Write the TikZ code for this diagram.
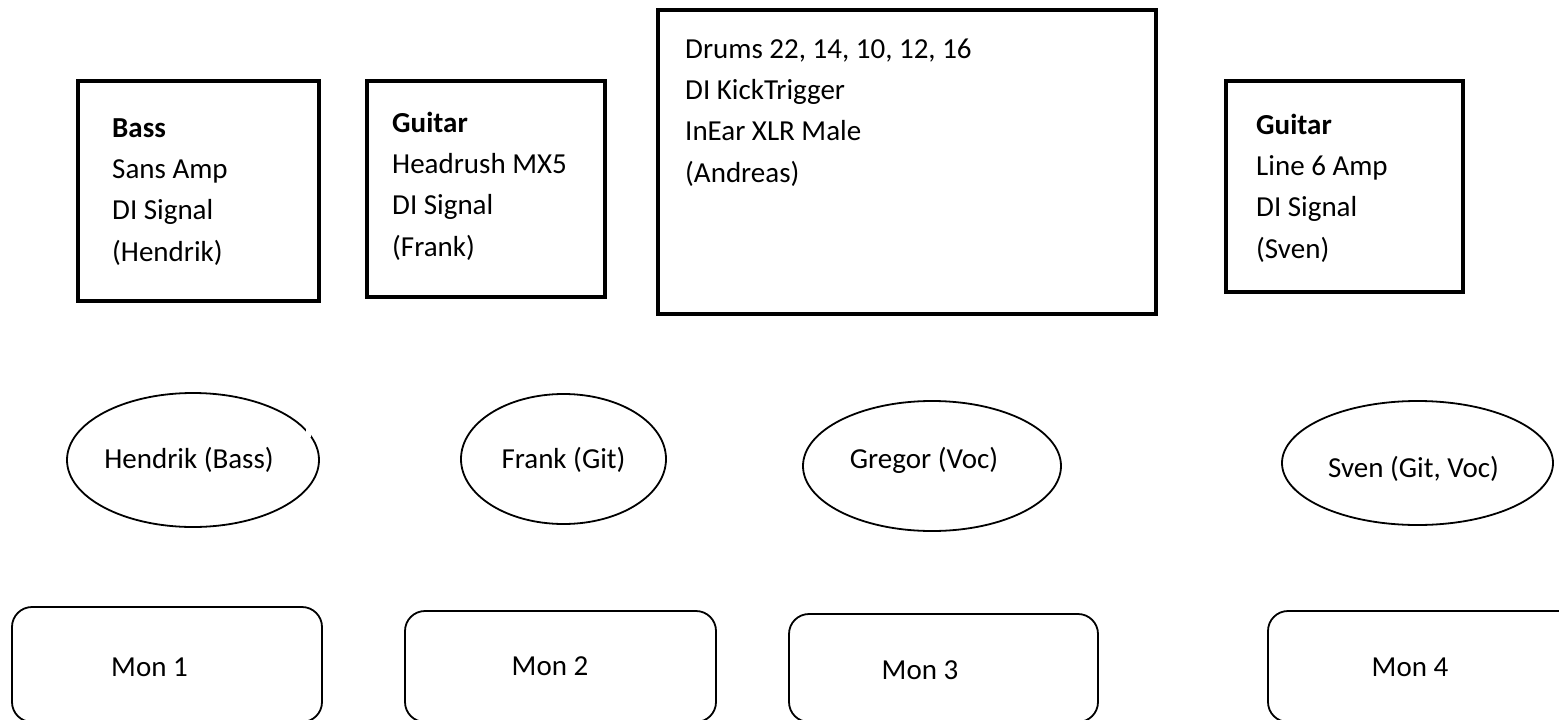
\documentclass[tikz,border=0pt]{standalone}
\usepackage{fontspec}
\setmainfont{Carlito}
\usetikzlibrary{shapes.geometric}
\begin{document}
\begin{tikzpicture}[x=1pt,y=-1pt,
  every node/.style={font=\fontsize{29}{41.3}\selectfont},
  infobox/.style={draw, line width=3.5pt, rectangle, inner sep=0pt},
  person/.style={draw, line width=1.8pt, ellipse, inner sep=0pt},
  monbox/.style={draw, line width=1.8pt, rectangle, rounded corners=20pt, inner sep=0pt},
  txt/.style={inner sep=0pt, anchor=base},
  boxtxt/.style={inner sep=0pt, anchor=base west, align=left}]
\useasboundingbox[fill=white] (0,0) rectangle (1559,720);

% instrument boxes
\node[infobox, minimum width=241pt, minimum height=220pt] (bassbox) at (198.5,191) {};
\node[infobox, minimum width=238pt, minimum height=216pt] (frankbox) at (486,189) {};
\node[infobox, minimum width=498pt, minimum height=304pt] (drumbox) at (907,162) {};
\node[infobox, minimum width=237pt, minimum height=211pt] (svenbox) at (1344.5,186.5) {};

% anchor base west of a multi-line node = baseline of its last line
\node[boxtxt] (basstxt) at (112,261) {\textbf{Bass}\\Sans Amp\\DI Signal\\(Hendrik)};
\node[boxtxt] (franktxt) at (392,256) {\textbf{Guitar}\\Headrush MX5\\DI Signal\\(Frank)};
\node[boxtxt] (drumtxt) at (685,182) {Drums 22, 14, 10, 12, 16\\DI KickTrigger\\InEar XLR Male\\(Andreas)};
\node[boxtxt] (sventxt) at (1256,258) {\textbf{Guitar}\\Line 6 Amp\\DI Signal\\(Sven)};

% persons
\node[person, minimum width=252pt, minimum height=134pt] (hendrik) at (193,460) {};
\node[person, minimum width=205pt, minimum height=130pt] (frank) at (563.5,459) {};
\node[person, minimum width=258pt, minimum height=130pt] (gregor) at (932,466) {};
\node[person, minimum width=271pt, minimum height=124pt] (sven) at (1417.5,463) {};
% small break in the outline of the Hendrik ellipse
\fill[white] (306,425) rectangle (311,437);

\node[txt] (hendriktxt) at (189,468) {Hendrik (Bass)};
\node[txt] (franktxt2) at (563.5,468) {Frank (Git)};
\node[txt] (gregortxt) at (924,468) {Gregor (Voc)};
\node[txt] (sventxt2) at (1413.5,477) {Sven (Git, Voc)};

% monitors
\node[monbox, minimum width=310pt, minimum height=115pt] (mon1) at (167,664.5) {};
\node[monbox, minimum width=311pt, minimum height=111pt] (mon2) at (560.5,666.5) {};
\node[monbox, minimum width=309pt, minimum height=108pt] (mon3) at (943.5,668) {};
\node[monbox, minimum width=312pt, minimum height=111pt] (mon4) at (1424,666.5) {};

\node[txt] (mon1txt) at (149.5,676) {Mon 1};
\node[txt] (mon2txt) at (550,675) {Mon 2};
\node[txt] (mon3txt) at (920,679) {Mon 3};
\node[txt] (mon4txt) at (1410,676) {Mon 4};
\end{tikzpicture}
\end{document}
